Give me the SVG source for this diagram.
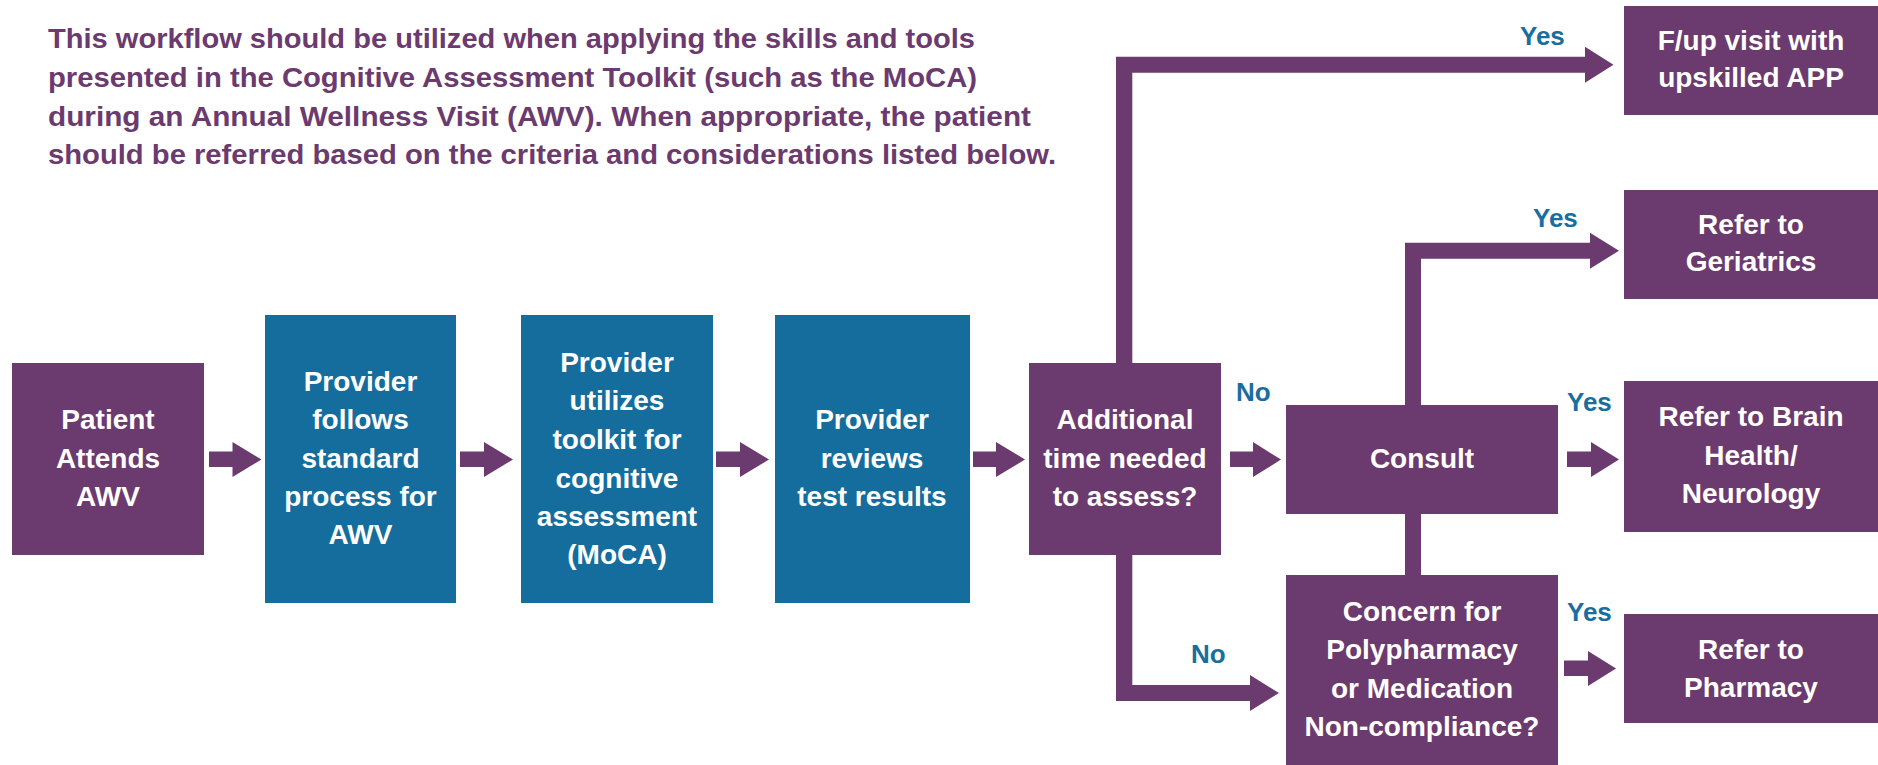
<svg xmlns="http://www.w3.org/2000/svg" width="1878" height="765" viewBox="0 0 1878 765">
<style>
.p{fill:#6B3A6E}
.b{fill:#156D9E}
.t{font-family:"Liberation Sans",Arial,sans-serif;font-weight:bold;font-size:28px;fill:#ffffff;text-anchor:middle}
.h{font-family:"Liberation Sans",Arial,sans-serif;font-weight:bold;font-size:27px;fill:#6B3A6E}
.l{font-family:"Liberation Sans",Arial,sans-serif;font-weight:bold;font-size:26px;fill:#1A6E9E}
</style>
<rect width="1878" height="765" fill="#ffffff"/>
<g id="header">
<text class="h" x="48" y="48" textLength="927" lengthAdjust="spacingAndGlyphs">This workflow should be utilized when applying the skills and tools</text>
<text class="h" x="48" y="87" textLength="929" lengthAdjust="spacingAndGlyphs">presented in the Cognitive Assessment Toolkit (such as the MoCA)</text>
<text class="h" x="48" y="126" textLength="983" lengthAdjust="spacingAndGlyphs">during an Annual Wellness Visit (AWV). When appropriate, the patient</text>
<text class="h" x="48" y="164" textLength="1008" lengthAdjust="spacingAndGlyphs">should be referred based on the criteria and considerations listed below.</text>
</g>
<g id="connectors" class="p">
<polygon points="209,451.5 232.5,451.5 232.5,442 261.5,459.5 232.5,477 232.5,467 209,467"/>
<polygon points="460,451.5 484,451.5 484,442 513,459.5 484,477 484,467 460,467"/>
<polygon points="716,451.5 740,451.5 740,442 769,459.5 740,477 740,467 716,467"/>
<polygon points="973,451.5 996,451.5 996,442 1025,459.5 996,477 996,467 973,467"/>
<polygon points="1230,451.5 1253,451.5 1253,442 1281,459.5 1253,477 1253,467 1230,467"/>
<polygon points="1567,451.5 1591,451.5 1591,442 1619,459.5 1591,477 1591,467 1567,467"/>
<polygon points="1564,660.5 1588,660.5 1588,651 1616,668.5 1588,686 1588,676 1564,676"/>
<polygon points="1116,363 1116,56.7 1585,56.7 1585,46.7 1613.5,64.7 1585,82.7 1585,72.7 1132.3,72.7 1132.3,363"/>
<polygon points="1405,405 1405,242.7 1590,242.7 1590,232.7 1619,250.7 1590,268.7 1590,258.7 1421,258.7 1421,405"/>
<rect x="1405" y="513" width="16" height="63"/>
<polygon points="1116,554 1132.3,554 1132.3,685 1250,685 1250,675 1279,693 1250,711 1250,701 1116,701"/>
<text class="l" x="1520" y="45">Yes</text>
<text class="l" x="1533" y="227">Yes</text>
<text class="l" x="1236" y="401">No</text>
<text class="l" x="1567" y="411">Yes</text>
<text class="l" x="1191" y="663">No</text>
<text class="l" x="1567" y="621">Yes</text>
</g>
<g id="patient">
<rect class="p" x="12" y="363" width="192" height="192"/>
<text class="t" x="108" y="429">Patient</text>
<text class="t" x="108" y="468">Attends</text>
<text class="t" x="108" y="506">AWV</text>
</g>
<g id="provider-follows">
<rect class="b" x="265" y="315" width="191" height="288"/>
<text class="t" x="360.5" y="391">Provider</text>
<text class="t" x="360.5" y="429">follows</text>
<text class="t" x="360.5" y="468">standard</text>
<text class="t" x="360.5" y="506">process for</text>
<text class="t" x="360.5" y="544">AWV</text>
</g>
<g id="provider-utilizes">
<rect class="b" x="521" y="315" width="192" height="288"/>
<text class="t" x="617" y="372">Provider</text>
<text class="t" x="617" y="410">utilizes</text>
<text class="t" x="617" y="449">toolkit for</text>
<text class="t" x="617" y="488">cognitive</text>
<text class="t" x="617" y="526">assessment</text>
<text class="t" x="617" y="564">(MoCA)</text>
</g>
<g id="provider-reviews">
<rect class="b" x="775" y="315" width="195" height="288"/>
<text class="t" x="872" y="429">Provider</text>
<text class="t" x="872" y="468">reviews</text>
<text class="t" x="872" y="506">test results</text>
</g>
<g id="additional-time">
<rect class="p" x="1029" y="363" width="192" height="192"/>
<text class="t" x="1125" y="429">Additional</text>
<text class="t" x="1125" y="468">time needed</text>
<text class="t" x="1125" y="506">to assess?</text>
</g>
<g id="consult">
<rect class="p" x="1286" y="405" width="272" height="109"/>
<text class="t" x="1422" y="468">Consult</text>
</g>
<g id="concern">
<rect class="p" x="1286" y="575" width="272" height="190"/>
<text class="t" x="1422" y="621">Concern for</text>
<text class="t" x="1422" y="659">Polypharmacy</text>
<text class="t" x="1422" y="698">or Medication</text>
<text class="t" x="1422" y="736">Non-compliance?</text>
</g>
<g id="followup">
<rect class="p" x="1624" y="6" width="254" height="109"/>
<text class="t" x="1751" y="50">F/up visit with</text>
<text class="t" x="1751" y="87">upskilled APP</text>
</g>
<g id="geriatrics">
<rect class="p" x="1624" y="190" width="254" height="109"/>
<text class="t" x="1751" y="234">Refer to</text>
<text class="t" x="1751" y="271">Geriatrics</text>
</g>
<g id="neurology">
<rect class="p" x="1624" y="381" width="254" height="151"/>
<text class="t" x="1751" y="426">Refer to Brain</text>
<text class="t" x="1751" y="465">Health/</text>
<text class="t" x="1751" y="503">Neurology</text>
</g>
<g id="pharmacy">
<rect class="p" x="1624" y="614" width="254" height="109"/>
<text class="t" x="1751" y="659">Refer to</text>
<text class="t" x="1751" y="697">Pharmacy</text>
</g>
</svg>
